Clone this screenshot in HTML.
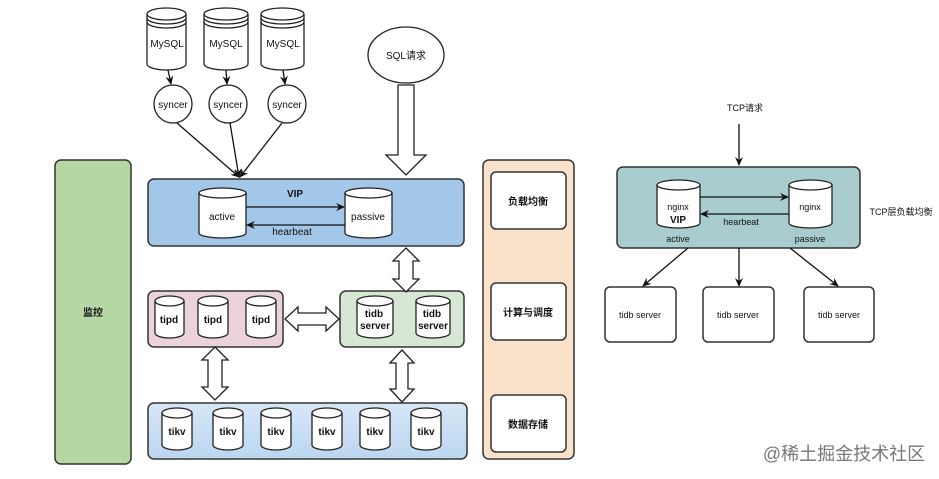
<!DOCTYPE html>
<html><head><meta charset="utf-8"><style>
html,body{margin:0;padding:0;background:#fff;}
svg{display:block;}
text{font-family:"Liberation Sans","Noto Sans CJK SC",sans-serif;fill:#111;}
</style></head><body>
<svg width="939" height="479" viewBox="0 0 939 479" xmlns="http://www.w3.org/2000/svg">
<defs>
<marker id="ah" markerWidth="10" markerHeight="10" refX="8" refY="5" orient="auto" markerUnits="userSpaceOnUse"><path d="M0,1 L9,5 L0,9 L3,5 z" fill="#111"/></marker>
<linearGradient id="tk" x1="0" y1="0" x2="0" y2="1"><stop offset="0" stop-color="#d6e6f7"/><stop offset="1" stop-color="#bcd6f0"/></linearGradient>
</defs>
<g stroke="#333" stroke-width="1.5">
<!-- left monitor -->
<rect x="55" y="160" width="76" height="304" rx="6" fill="#b5d7a3"/>
<!-- orange column -->
<rect x="483" y="160" width="91" height="299" rx="6" fill="#fbe3cb"/>
<rect x="491" y="172" width="75" height="57" rx="5" fill="#fff"/>
<rect x="491" y="283" width="75" height="57" rx="5" fill="#fff"/>
<rect x="491" y="395" width="75" height="57" rx="5" fill="#fff"/>
<!-- VIP box -->
<rect x="148" y="179" width="316" height="67" rx="6" fill="#a3c7e8"/>
<!-- pink / green / tikv -->
<rect x="148" y="291" width="135" height="56" rx="6" fill="#ebd2dc"/>
<rect x="340" y="291" width="124" height="56" rx="6" fill="#d6e8d3"/>
<rect x="148" y="403" width="319" height="56" rx="6" fill="url(#tk)"/>
<!-- right teal -->
<rect x="617" y="167" width="243" height="81" rx="6" fill="#a9cccf"/>
<rect x="605" y="287" width="71" height="55" rx="5" fill="#fff"/>
<rect x="703" y="287" width="71" height="55" rx="5" fill="#fff"/>
<rect x="804" y="287" width="70" height="55" rx="5" fill="#fff"/>
</g>
<g stroke="#222" stroke-width="1.3" fill="#fff">
<!-- MySQL cylinders -->
<path d="M147,14 a19.5,6 0 0,1 39,0 v50 a19.5,6 0 0,1 -39,0 z"/><path d="M147,14 a19.5,6 0 0,0 39,0 M147,18 a19.5,6 0 0,0 39,0 M147,22 a19.5,6 0 0,0 39,0" fill="none"/>
<path d="M204,14 a22,6 0 0,1 44,0 v50 a22,6 0 0,1 -44,0 z"/><path d="M204,14 a22,6 0 0,0 44,0 M204,18 a22,6 0 0,0 44,0 M204,22 a22,6 0 0,0 44,0" fill="none"/>
<path d="M261,14 a21.5,6 0 0,1 43,0 v50 a21.5,6 0 0,1 -43,0 z"/><path d="M261,14 a21.5,6 0 0,0 43,0 M261,18 a21.5,6 0 0,0 43,0 M261,22 a21.5,6 0 0,0 43,0" fill="none"/>
<!-- syncers -->
<ellipse cx="173" cy="104" rx="19" ry="19"/>
<ellipse cx="228" cy="104" rx="19" ry="19"/>
<ellipse cx="287" cy="104" rx="19" ry="19"/>
<ellipse cx="406" cy="55" rx="38" ry="28"/>
<!-- active/passive -->
<path d="M199,193 a23.5,5 0 0,1 47,0 v40 a23.5,5 0 0,1 -47,0 z"/><path d="M199,193 a23.5,5 0 0,0 47,0" fill="none"/>
<path d="M345,193 a23.5,5 0 0,1 47,0 v40 a23.5,5 0 0,1 -47,0 z"/><path d="M345,193 a23.5,5 0 0,0 47,0" fill="none"/>
<!-- tipd -->
<path d="M155,301 a14.5,5 0 0,1 29,0 v32 a14.5,5 0 0,1 -29,0 z"/><path d="M155,301 a14.5,5 0 0,0 29,0" fill="none"/>
<path d="M198,301 a15,5 0 0,1 30,0 v32 a15,5 0 0,1 -30,0 z"/><path d="M198,301 a15,5 0 0,0 30,0" fill="none"/>
<path d="M246,301 a15,5 0 0,1 30,0 v32 a15,5 0 0,1 -30,0 z"/><path d="M246,301 a15,5 0 0,0 30,0" fill="none"/>
<!-- tidb -->
<path d="M357,301 a18,5 0 0,1 36,0 v32 a18,5 0 0,1 -36,0 z"/><path d="M357,301 a18,5 0 0,0 36,0" fill="none"/>
<path d="M416,301 a17,5 0 0,1 34,0 v32 a17,5 0 0,1 -34,0 z"/><path d="M416,301 a17,5 0 0,0 34,0" fill="none"/>
<!-- tikv -->
<path d="M162,413 a15,5 0 0,1 30,0 v32 a15,5 0 0,1 -30,0 z"/><path d="M162,413 a15,5 0 0,0 30,0" fill="none"/>
<path d="M213,413 a15,5 0 0,1 30,0 v32 a15,5 0 0,1 -30,0 z"/><path d="M213,413 a15,5 0 0,0 30,0" fill="none"/>
<path d="M261,413 a15,5 0 0,1 30,0 v32 a15,5 0 0,1 -30,0 z"/><path d="M261,413 a15,5 0 0,0 30,0" fill="none"/>
<path d="M312,413 a15,5 0 0,1 30,0 v32 a15,5 0 0,1 -30,0 z"/><path d="M312,413 a15,5 0 0,0 30,0" fill="none"/>
<path d="M360,413 a15,5 0 0,1 30,0 v32 a15,5 0 0,1 -30,0 z"/><path d="M360,413 a15,5 0 0,0 30,0" fill="none"/>
<path d="M411,413 a15,5 0 0,1 30,0 v32 a15,5 0 0,1 -30,0 z"/><path d="M411,413 a15,5 0 0,0 30,0" fill="none"/>
<!-- nginx -->
<path d="M657,185 a21.5,5 0 0,1 43,0 v38 a21.5,5 0 0,1 -43,0 z"/><path d="M657,185 a21.5,5 0 0,0 43,0" fill="none"/>
<path d="M789,185 a21.5,5 0 0,1 43,0 v38 a21.5,5 0 0,1 -43,0 z"/><path d="M789,185 a21.5,5 0 0,0 43,0" fill="none"/>
<!-- big arrows -->
<path d="M398,85 h16 v70 h12 l-20,20 l-20,-20 h12 z"/>
<path d="M406,248 l13,13 h-6 v18 h6 l-13,13 l-13,-13 h6 v-18 h-6 z"/>
<path d="M285,319 l13,-12 v6 h28 v-6 l13,12 l-13,12 v-6 h-28 v6 z"/>
<path d="M215,347 l13,13 h-6 v27 h6 l-13,13 l-13,-13 h6 v-27 h-6 z"/>
<path d="M402,350 l12,13 h-6 v26 h6 l-12,13 l-12,-13 h6 v-26 h-6 z"/>
</g>
<g stroke="#111" stroke-width="1.3" fill="none" marker-end="url(#ah)">
<line x1="168" y1="70" x2="171" y2="84"/>
<line x1="226" y1="70" x2="227" y2="84"/>
<line x1="283" y1="70" x2="285" y2="84"/>
<line x1="177" y1="123" x2="239" y2="177"/>
<line x1="230" y1="123" x2="239" y2="177"/>
<line x1="282" y1="123" x2="240" y2="177"/>
<line x1="246" y1="207" x2="344" y2="207"/>
<line x1="345" y1="225" x2="247" y2="225"/>
<line x1="739" y1="124" x2="739" y2="165"/>
<line x1="700" y1="197" x2="788" y2="197"/>
<line x1="789" y1="214" x2="701" y2="214"/>
<line x1="688" y1="248" x2="643" y2="286"/>
<line x1="739" y1="248" x2="739" y2="286"/>
<line x1="790" y1="248" x2="838" y2="286"/>
</g>
<g font-size="10" text-anchor="middle">
<text x="167" y="47">MySQL</text><text x="226" y="47">MySQL</text><text x="283" y="47">MySQL</text>
<text x="173" y="108">syncer</text><text x="228" y="108">syncer</text><text x="287" y="108">syncer</text>
<text x="406" y="59">SQL请求</text>
<text x="295" y="197" font-weight="bold">VIP</text>
<text x="222" y="220">active</text><text x="368" y="220">passive</text>
<text x="292" y="235">hearbeat</text>
<text x="93" y="316" font-weight="bold">监控</text>
<text x="528" y="205" font-weight="bold">负载均衡</text>
<text x="528" y="316" font-weight="bold">计算与调度</text>
<text x="528" y="428" font-weight="bold">数据存储</text>
<g font-weight="bold">
<text x="169" y="323">tipd</text><text x="213" y="323">tipd</text><text x="261" y="323">tipd</text>
<text x="374" y="317">tidb</text><text x="375" y="329">server</text>
<text x="432" y="317">tidb</text><text x="433" y="329">server</text>
<text x="177" y="435">tikv</text><text x="228" y="435">tikv</text><text x="276" y="435">tikv</text><text x="327" y="435">tikv</text><text x="375" y="435">tikv</text><text x="426" y="435">tikv</text>
<text x="678" y="223">VIP</text>
</g>
<text x="745" y="111" font-size="9">TCP请求</text>
<text x="678" y="210" font-size="9">nginx</text>
<text x="810" y="210" font-size="9">nginx</text>
<text x="741" y="225" font-size="9">hearbeat</text>
<text x="678" y="242" font-size="9">active</text>
<text x="810" y="242" font-size="9">passive</text>
<text x="901" y="215" font-size="9">TCP层负载均衡</text>
<text x="640" y="318" font-size="9">tidb server</text>
<text x="738" y="318" font-size="9">tidb server</text>
<text x="839" y="318" font-size="9">tidb server</text>
</g>
<text x="844" y="460" font-size="18" text-anchor="middle" style="fill:#777">@稀土掘金技术社区</text>
</svg>
</body></html>
